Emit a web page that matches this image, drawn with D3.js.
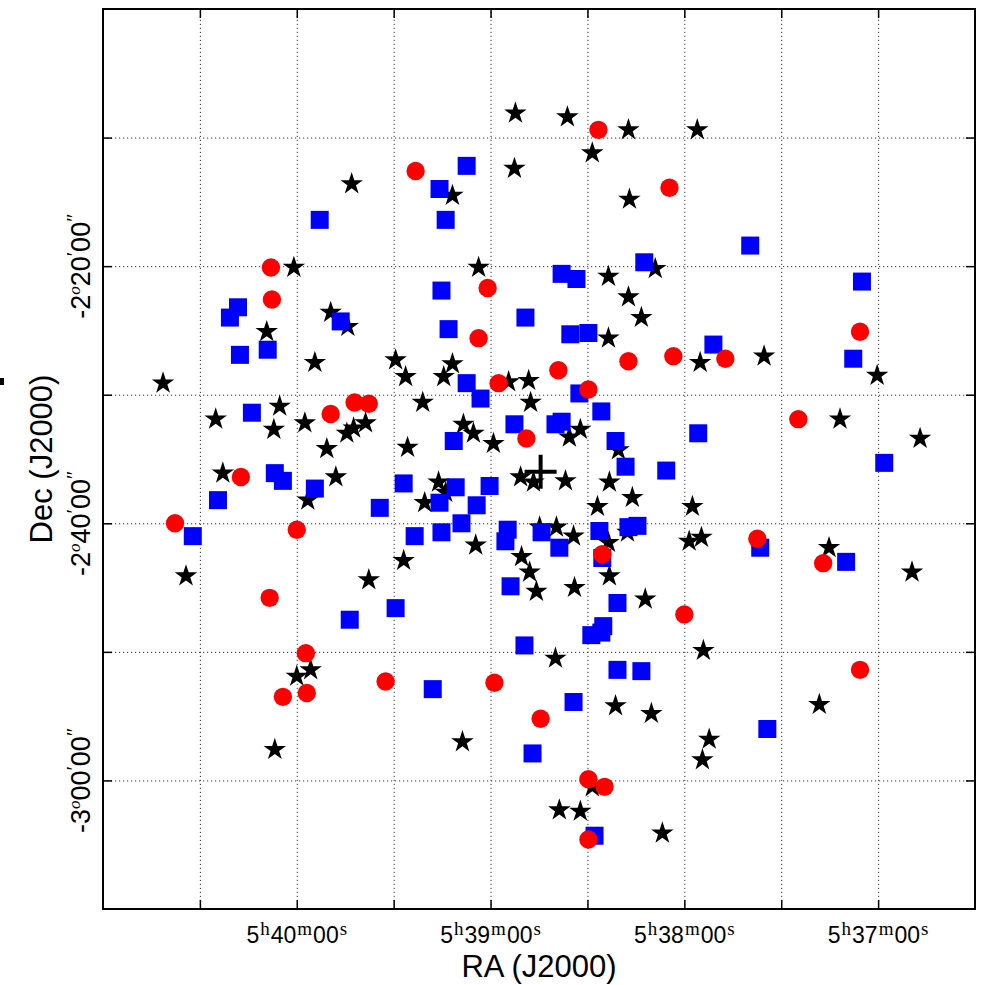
<!DOCTYPE html>
<html>
<head>
<meta charset="utf-8">
<script src="https://cdn.jsdelivr.net/npm/d3@7"></script>
<style>
  html, body { margin: 0; padding: 0; background: #fff; }
  svg { display: block; }
</style>
</head>
<body>
<svg id="chart" width="991" height="985"></svg>
<script>
// RA in seconds of time after 5h00m00s; Dec in arcminutes (negative = south)
const raDomain = [2460, 2190];          // 5h41m00s .. 5h36m30s
const decDomain = [-120, -190];         // -2°00' .. -3°10'
const raTicks = [2430, 2400, 2370, 2340, 2310, 2280, 2250, 2220];
const raLabelTicks = [2400, 2340, 2280, 2220];
const decTicks = [-130, -140, -150, -160, -170, -180];
const decLabelTicks = [-140, -160, -180];
const xTitle = "RA (J2000)";
const yTitle = "Dec (J2000)";

const stars = [
  [2332.3,-128.1],[2316.2,-128.4],[2297.3,-129.4],[2276.0,-129.4],[2308.5,-131.2],
  [2332.6,-132.4],[2383.0,-133.6],[2351.8,-134.5],[2297.0,-134.8],[2400.9,-140.1],
  [2343.7,-140.1],[2303.5,-140.8],[2289.0,-140.2],[2297.3,-142.4],[2293.3,-144.0],
  [2389.5,-143.6],[2384.2,-144.7],[2409.3,-145.1],[2303.5,-145.6],[2394.4,-147.5],
  [2369.4,-147.3],[2351.8,-147.6],[2275.1,-147.5],[2255.3,-147.0],[2220.3,-148.5],
  [2441.4,-149.1],[2366.3,-148.6],[2354.5,-148.6],[2334.4,-149.0],[2328.2,-148.9],
  [2327.6,-150.6],[2361.0,-150.6],[2405.3,-150.9],[2425.1,-151.9],[2397.5,-152.2],
  [2407.1,-152.7],[2378.7,-152.2],[2382.4,-152.6],[2384.5,-153.0],[2390.7,-154.2],
  [2365.7,-154.1],[2348.4,-152.3],[2345.3,-153.0],[2339.1,-153.8],[2312.2,-152.7],
  [2315.6,-153.3],[2300.4,-154.3],[2231.8,-151.9],[2207.0,-153.4],[2422.9,-156.1],
  [2387.9,-156.4],[2396.6,-158.2],[2356.1,-156.8],[2353.9,-157.6],[2360.4,-158.4],
  [2330.7,-156.4],[2326.7,-156.8],[2316.8,-156.7],[2303.2,-156.8],[2296.1,-158.0],
  [2306.9,-158.7],[2277.5,-158.7],[2324.8,-160.3],[2319.6,-160.3],[2314.3,-161.0],
  [2303.5,-161.5],[2297.6,-160.7],[2278.5,-161.4],[2274.7,-161.1],[2235.2,-161.9],
  [2209.5,-163.8],[2434.3,-164.1],[2344.6,-161.7],[2366.9,-162.9],[2330.4,-162.6],
  [2327.9,-163.8],[2325.8,-165.3],[2314.0,-165.0],[2303.2,-164.1],[2377.7,-164.4],
  [2292.1,-165.9],[2319.9,-170.5],[2274.1,-169.9],[2395.7,-171.4],[2400.0,-171.9],
  [2301.3,-174.2],[2290.2,-174.8],[2238.2,-174.1],[2272.3,-176.8],[2274.4,-178.4],
  [2348.7,-177.0],[2406.8,-177.6],[2308.5,-180.5],[2318.7,-182.3],[2312.2,-182.4],
  [2286.8,-184.1]
];

const squares = [
  [2347.4,-132.2],[2355.8,-134.0],[2353.9,-136.4],[2392.9,-136.4],[2259.6,-138.4],
  [2292.4,-139.7],[2318.0,-140.6],[2313.4,-141.0],[2225.0,-141.2],[2355.2,-141.9],
  [2418.2,-143.2],[2420.7,-144.0],[2386.4,-144.3],[2329.2,-144.0],[2353.0,-144.9],
  [2315.3,-145.3],[2309.7,-145.2],[2271.0,-146.1],[2409.0,-146.5],[2417.6,-146.9],
  [2227.7,-147.2],[2347.4,-149.1],[2312.5,-149.9],[2343.1,-150.3],[2413.9,-151.4],
  [2305.7,-151.3],[2332.6,-152.3],[2319.9,-152.3],[2318.0,-152.1],[2351.4,-153.6],
  [2301.3,-153.6],[2275.7,-153.0],[2406.8,-156.1],[2404.3,-156.7],[2424.4,-158.2],
  [2394.4,-157.3],[2366.9,-156.9],[2350.8,-157.2],[2340.3,-157.1],[2374.3,-158.8],
  [2355.8,-158.4],[2344.3,-158.6],[2298.2,-155.6],[2285.6,-155.9],[2218.1,-155.3],
  [2432.2,-161.0],[2349.0,-160.0],[2363.5,-161.0],[2355.2,-160.7],[2334.7,-160.5],
  [2335.4,-161.4],[2324.2,-160.7],[2318.7,-161.9],[2306.3,-160.6],[2297.3,-160.3],
  [2294.5,-160.2],[2305.4,-162.7],[2256.5,-161.9],[2229.9,-163.0],[2333.8,-164.9],
  [2300.7,-166.2],[2383.6,-167.5],[2369.4,-166.6],[2305.1,-168.0],[2308.8,-168.7],
  [2305.7,-168.5],[2329.5,-169.5],[2300.7,-171.4],[2293.3,-171.5],[2357.9,-172.9],
  [2314.3,-173.9],[2254.3,-176.0],[2327.0,-177.9],[2307.8,-184.3]
];

const circles = [
  [2306.6,-129.4],[2363.2,-132.6],[2284.6,-133.9],[2408.0,-140.1],[2340.9,-141.7],
  [2407.7,-142.6],[2225.6,-145.1],[2343.7,-145.6],[2319.0,-148.1],[2297.3,-147.4],
  [2283.4,-147.0],[2267.3,-147.2],[2337.5,-149.1],[2309.7,-149.6],[2389.5,-151.5],
  [2382.1,-150.6],[2377.7,-150.7],[2328.9,-153.4],[2244.7,-151.9],[2417.3,-156.4],
  [2437.7,-160.0],[2400.0,-160.5],[2305.4,-162.4],[2257.4,-161.2],[2237.0,-163.1],
  [2408.4,-165.8],[2280.0,-167.1],[2397.2,-170.1],[2404.3,-173.5],[2396.9,-173.2],
  [2372.5,-172.3],[2338.8,-172.4],[2225.6,-171.4],[2324.5,-175.2],[2309.7,-179.9],
  [2304.7,-180.5],[2309.7,-184.6]
];

const center = [2324.5, -156.0];

// ---------------------------------------------------------------
const svg = d3.select("#chart");
const L = 103, R = 975, T = 9, B = 909;
const x = d3.scaleLinear().domain(raDomain).range([L, R]);
const y = d3.scaleLinear().domain(decDomain).range([T, B]);

// grid
const gridG = svg.append("g");
gridG.append("g").attr("transform", `translate(0,${B})`)
  .call(d3.axisBottom(x).tickValues(raTicks).tickSize(-(B - T)).tickFormat(""))
  .call(g => g.select(".domain").remove())
  .selectAll("line").attr("stroke", "#333").attr("stroke-width", 1).attr("stroke-dasharray", "1.2,2.8");
gridG.append("g").attr("transform", `translate(${L},0)`)
  .call(d3.axisLeft(y).tickValues(decTicks).tickSize(-(R - L)).tickFormat(""))
  .call(g => g.select(".domain").remove())
  .selectAll("line").attr("stroke", "#333").attr("stroke-width", 1).attr("stroke-dasharray", "1.2,2.8");

// tick marks (inward, all four sides)
const tk = 9;
function styleTicks(g) {
  g.select(".domain").remove();
  g.selectAll("line").attr("stroke", "#000").attr("stroke-width", 1.5);
}
svg.append("g").attr("transform", `translate(0,${B})`)
  .call(d3.axisBottom(x).tickValues(raTicks).tickSize(-tk).tickFormat("")).call(styleTicks);
svg.append("g").attr("transform", `translate(0,${T})`)
  .call(d3.axisTop(x).tickValues(raTicks).tickSize(-tk).tickFormat("")).call(styleTicks);
svg.append("g").attr("transform", `translate(${L},0)`)
  .call(d3.axisLeft(y).tickValues(decTicks).tickSize(-tk).tickFormat("")).call(styleTicks);
svg.append("g").attr("transform", `translate(${R},0)`)
  .call(d3.axisRight(y).tickValues(decTicks).tickSize(-tk).tickFormat("")).call(styleTicks);

// markers
const starPath = (() => {
  const Ro = 11.8, Ri = Ro * 0.382;
  const p = d3.path();
  for (let i = 0; i < 10; i++) {
    const a = -Math.PI / 2 + i * Math.PI / 5;
    const r = i % 2 === 0 ? Ro : Ri;
    const px = r * Math.cos(a), py = r * Math.sin(a);
    if (i === 0) p.moveTo(px, py); else p.lineTo(px, py);
  }
  p.closePath();
  return p.toString();
})();

svg.append("g").selectAll("path").data(stars).join("path")
  .attr("d", starPath)
  .attr("transform", d => `translate(${x(d[0])},${y(d[1])})`)
  .attr("fill", "#000");

const sq = 18;
svg.append("g").selectAll("rect").data(squares).join("rect")
  .attr("x", d => x(d[0]) - sq / 2).attr("y", d => y(d[1]) - sq / 2)
  .attr("width", sq).attr("height", sq)
  .attr("fill", "#0000ff");

svg.append("g").selectAll("circle").data(circles).join("circle")
  .attr("cx", d => x(d[0])).attr("cy", d => y(d[1])).attr("r", 9.2)
  .attr("fill", "#ff0000");

// center cross
const cx0 = x(center[0]), cy0 = y(center[1]);
svg.append("path")
  .attr("d", `M${cx0 - 16},${cy0}H${cx0 + 16}M${cx0},${cy0 - 17}V${cy0 + 17}`)
  .attr("stroke", "#000").attr("stroke-width", 4).attr("fill", "none");

// frame
svg.append("rect").attr("x", L).attr("y", T).attr("width", R - L).attr("height", B - T)
  .attr("fill", "none").attr("stroke", "#000").attr("stroke-width", 2);

// x tick labels
const sansF = "'Liberation Sans', Arial, sans-serif";
const serifF = "'Liberation Serif', 'DejaVu Serif', serif";
function raParts(v) {
  const h = Math.floor(v / 3600) + 5;
  const m = Math.floor(v / 60);
  const s = Math.round(v - m * 60);
  return [String(h), String(m), String(s).padStart(2, "0")];
}
raLabelTicks.forEach(v => {
  const [h, m, s] = raParts(v);
  const t = svg.append("text").attr("x", x(v)).attr("y", 943)
    .attr("text-anchor", "middle").attr("font-family", sansF).attr("font-size", 23).attr("fill", "#000");
  t.append("tspan").text(h);
  t.append("tspan").attr("font-family", serifF).attr("font-size", 19).attr("dy", -8).attr("dx", 1).text("h");
  t.append("tspan").attr("dy", 8).attr("dx", 1).text(m);
  t.append("tspan").attr("font-family", serifF).attr("font-size", 19).attr("dy", -8).attr("dx", 1).text("m");
  t.append("tspan").attr("dy", 8).attr("dx", 1).text(s);
  t.append("tspan").attr("font-family", serifF).attr("font-size", 19).attr("dy", -8).attr("dx", 1).text("s");
});

// y tick labels
function decParts(v) {
  const a = Math.abs(v);
  const d = Math.floor(a / 60);
  const m = Math.round(a - d * 60);
  return ["-" + d, String(m).padStart(2, "0"), "00"];
}
decLabelTicks.forEach(v => {
  const [d, m, s] = decParts(v);
  const t = svg.append("text").attr("transform", `translate(90,${y(v)}) rotate(-90)`)
    .attr("text-anchor", "middle").attr("font-family", sansF).attr("font-size", 27).attr("fill", "#000");
  t.append("tspan").text(d);
  t.append("tspan").attr("font-family", serifF).attr("font-style", "italic").attr("font-size", 17).attr("dy", -10).text("o");
  t.append("tspan").attr("dy", 10).text(m);
  t.append("tspan").attr("font-family", serifF).attr("font-size", 20).attr("dy", -9).text("\u2032");
  t.append("tspan").attr("dy", 9).text(s);
  t.append("tspan").attr("font-family", serifF).attr("font-size", 20).attr("dy", -9).text("\u2033");
});

// axis titles
svg.append("text").attr("x", (L + R) / 2).attr("y", 977).attr("text-anchor", "middle")
  .attr("font-family", sansF).attr("font-size", 31).attr("fill", "#000").text(xTitle);
svg.append("text").attr("transform", `translate(52,${(T + B) / 2}) rotate(-90)`).attr("text-anchor", "middle")
  .attr("font-family", sansF).attr("font-size", 31).attr("fill", "#000").text(yTitle);

// small clipped mark at the left edge
svg.append("rect").attr("x", 0).attr("y", 378).attr("width", 4).attr("height", 7).attr("fill", "#000");
</script>
</body>
</html>
